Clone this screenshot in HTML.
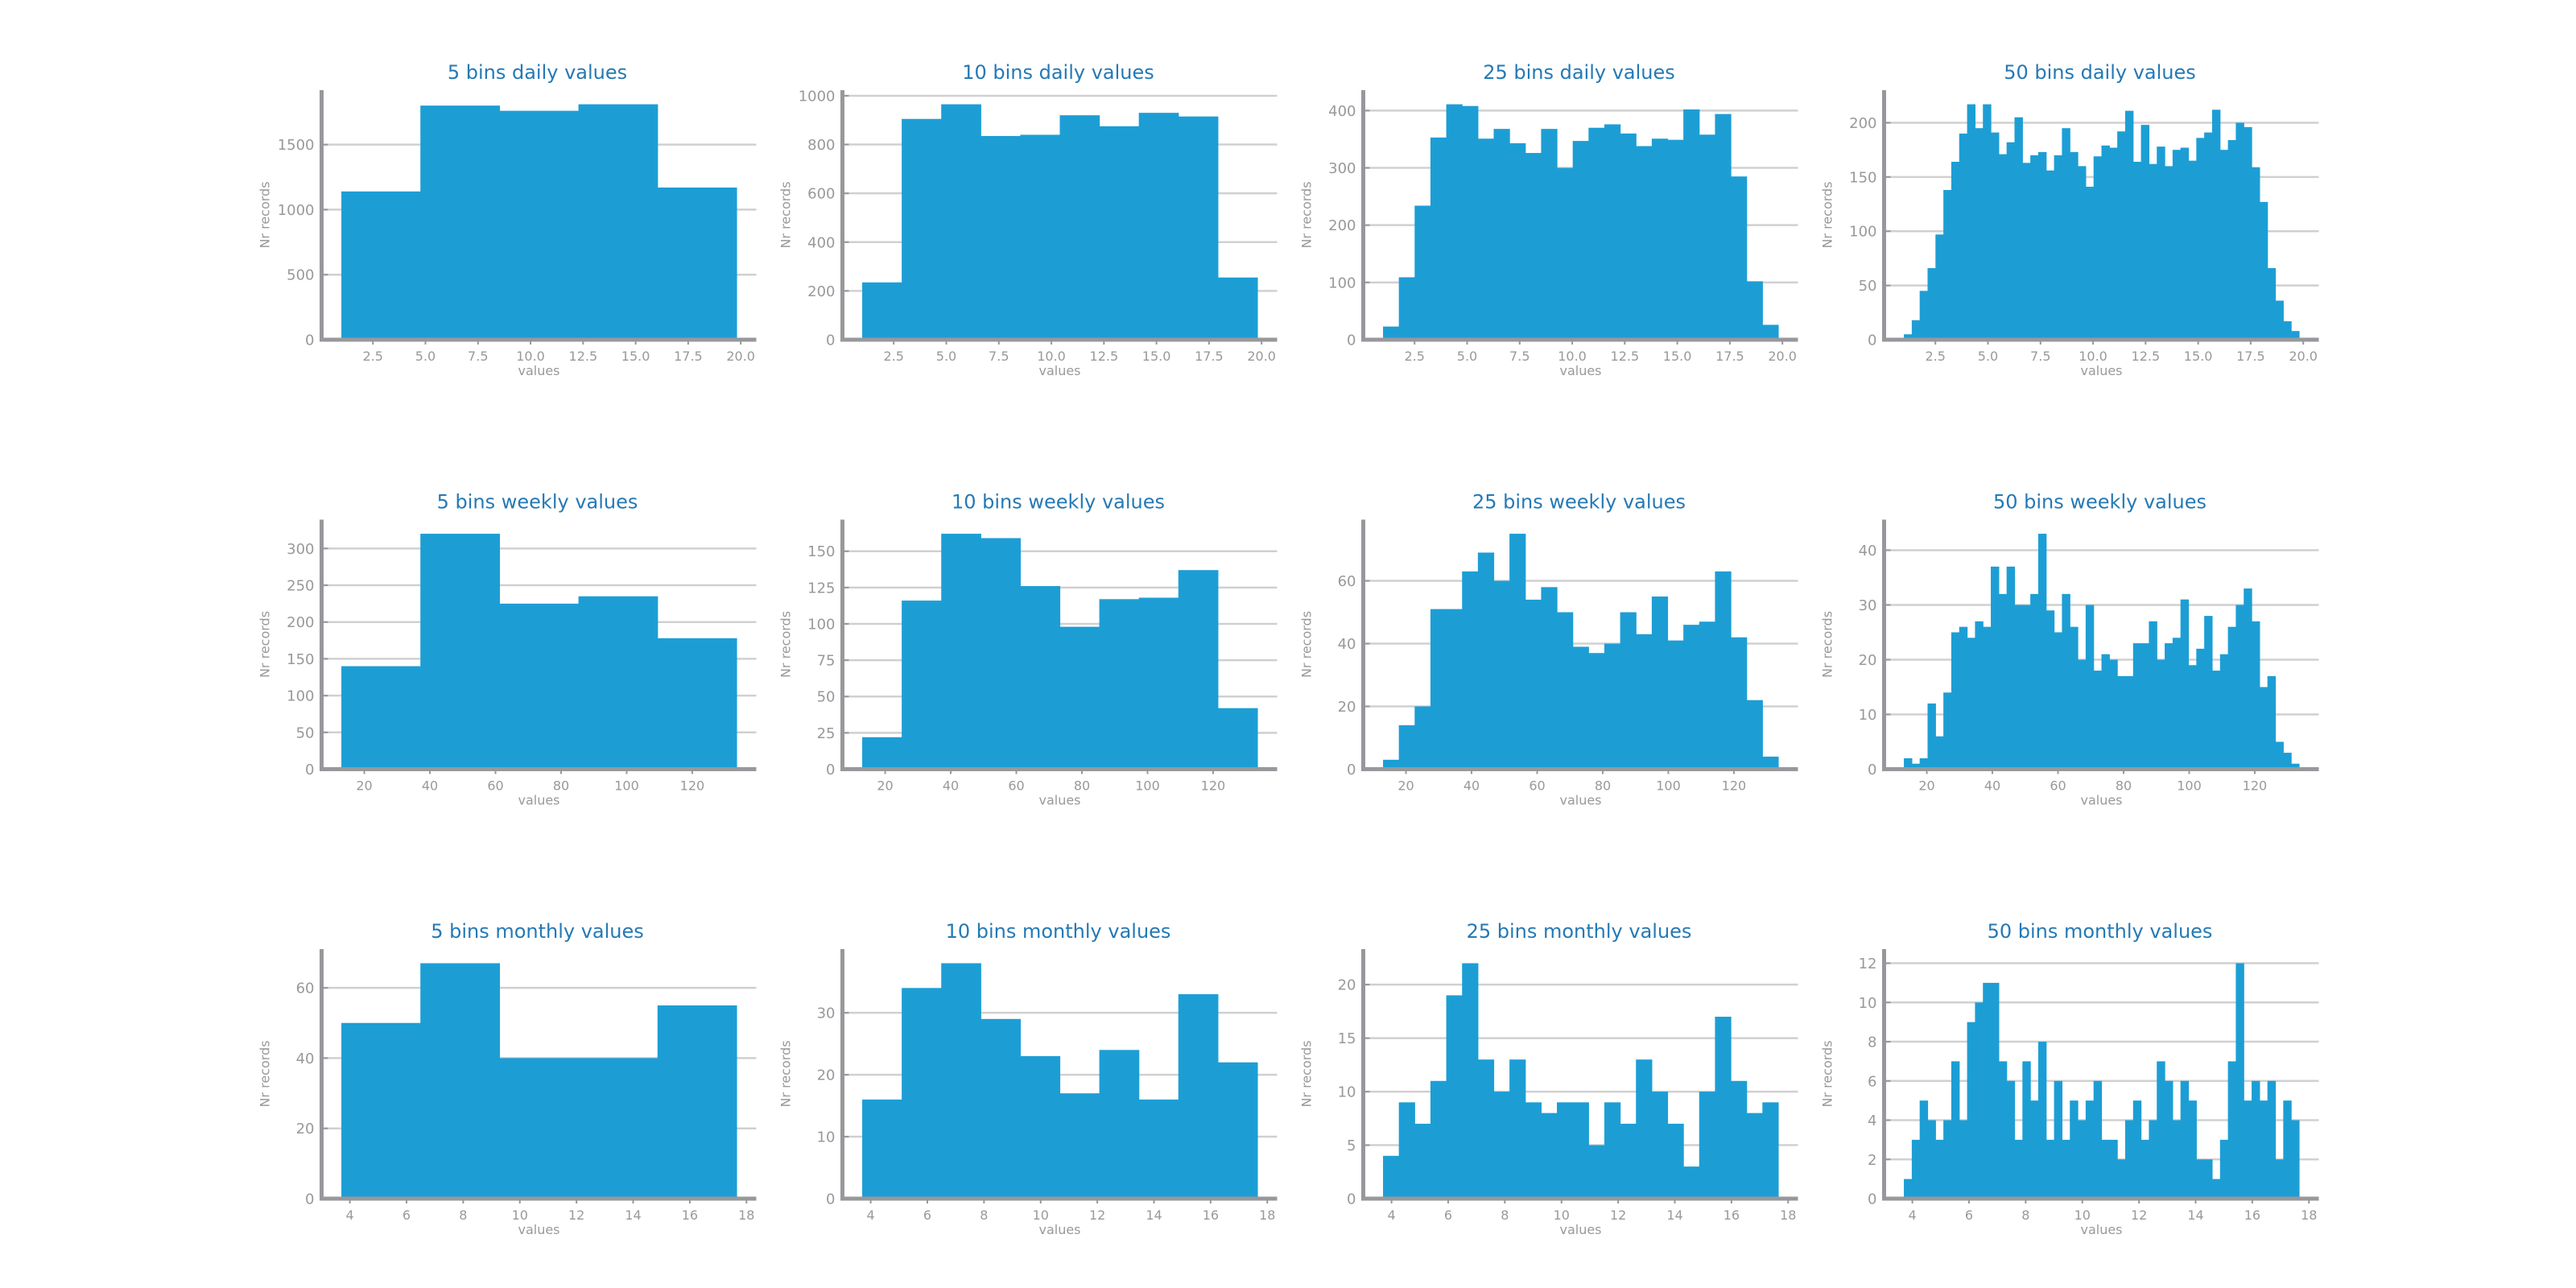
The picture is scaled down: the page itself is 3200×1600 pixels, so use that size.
<!DOCTYPE html>
<html><head><meta charset="utf-8"><style>
html,body{margin:0;padding:0;background:#fff;}
svg{display:block;font-family:"DejaVu Sans","Liberation Sans",sans-serif;}
</style></head><body>
<svg id="fig" width="3200" height="1600" viewBox="0 0 3200 1600" xmlns="http://www.w3.org/2000/svg"></svg>
<script>
// ---- data ----
const dailyRange = [1.0, 19.8];
const weeklyRange = [13, 133.5];
const monthlyRange = [3.7, 17.65];

const daily5 = [1140, 1800, 1760, 1810, 1170];
const daily10 = [235, 905, 965, 835, 840, 920, 875, 930, 915, 255];
const daily25 = [23, 109, 234, 353, 411, 408, 351, 368, 343, 326, 368, 300, 347, 370, 376, 360, 338, 351, 349, 402, 358, 394, 285, 102, 26];
const daily50 = [5, 18, 45, 66, 97, 138, 164, 190, 217, 195, 217, 191, 171, 182, 205, 163, 170, 173, 156, 170, 195, 173, 160, 141, 169, 179, 177, 192, 211, 164, 198, 162, 178, 160, 175, 177, 165, 186, 191, 212, 175, 184, 200, 196, 159, 127, 66, 36, 17, 8];

const weekly5 = [140, 320, 225, 235, 178];
const weekly10 = [22, 116, 162, 159, 126, 98, 117, 118, 137, 42];
const weekly25 = [3, 14, 20, 51, 51, 63, 69, 60, 75, 54, 58, 50, 39, 37, 40, 50, 43, 55, 41, 46, 47, 63, 42, 22, 4];
const weekly50 = [2, 1, 2, 12, 6, 14, 25, 26, 24, 27, 26, 37, 32, 37, 30, 30, 32, 43, 29, 25, 32, 26, 20, 30, 18, 21, 20, 17, 17, 23, 23, 27, 20, 23, 24, 31, 19, 22, 28, 18, 21, 26, 30, 33, 27, 15, 17, 5, 3, 1];

const monthly5 = [50, 67, 40, 40, 55];
const monthly10 = [16, 34, 38, 29, 23, 17, 24, 16, 33, 22];
const monthly25 = [4, 9, 7, 11, 19, 22, 13, 10, 13, 9, 8, 9, 9, 5, 9, 7, 13, 10, 7, 3, 10, 17, 11, 8, 9];
const monthly50 = [1, 3, 5, 4, 3, 4, 7, 4, 9, 10, 11, 11, 7, 6, 3, 7, 5, 8, 3, 6, 3, 5, 4, 5, 6, 3, 3, 2, 4, 5, 3, 4, 7, 6, 4, 6, 5, 2, 2, 1, 3, 7, 12, 5, 6, 5, 6, 2, 5, 4];

const dailyXTicks = [2.5, 5.0, 7.5, 10.0, 12.5, 15.0, 17.5, 20.0];
const weeklyXTicks = [20, 40, 60, 80, 100, 120];
const monthlyXTicks = [4, 6, 8, 10, 12, 14, 16, 18];

const yTicksD5 = [0, 500, 1000, 1500];
const yTicksD10 = [0, 200, 400, 600, 800, 1000];
const yTicksD25 = [0, 100, 200, 300, 400];
const yTicksD50 = [0, 50, 100, 150, 200];
const yTicksW5 = [0, 50, 100, 150, 200, 250, 300];
const yTicksW10 = [0, 25, 50, 75, 100, 125, 150];
const yTicksW25 = [0, 20, 40, 60];
const yTicksW50 = [0, 10, 20, 30, 40];
const yTicksM5 = [0, 20, 40, 60];
const yTicksM10 = [0, 10, 20, 30];
const yTicksM25 = [0, 5, 10, 15, 20];
const yTicksM50 = [0, 2, 4, 6, 8, 10, 12];

const rowLabels = ['daily', 'weekly', 'monthly'];
const binLabels = [5, 10, 25, 50];

const panels = [
  [[daily5, yTicksD5], [daily10, yTicksD10], [daily25, yTicksD25], [daily50, yTicksD50]],
  [[weekly5, yTicksW5], [weekly10, yTicksW10], [weekly25, yTicksW25], [weekly50, yTicksW50]],
  [[monthly5, yTicksM5], [monthly10, yTicksM10], [monthly25, yTicksM25], [monthly50, yTicksM50]]
];
const rowRanges = [dailyRange, weeklyRange, monthlyRange];
const rowXTicks = [dailyXTicks, weeklyXTicks, monthlyXTicks];

// ---- drawing ----
const NS = 'http://www.w3.org/2000/svg';
const svg = document.getElementById('fig');
function mk(tag, attrs, parent) {
  const e = document.createElementNS(NS, tag);
  for (const k in attrs) e.setAttribute(k, attrs[k]);
  parent.appendChild(e);
  return e;
}
function fmt(v, ticks) {
  const dec = ticks.some(t => Math.round(t) !== t);
  return dec ? v.toFixed(1) : String(v);
}

const AX_W = 540, AX_H = 310;
for (let r = 0; r < 3; r++) {
  for (let c = 0; c < 4; c++) {
    const counts = panels[r][c][0];
    const yTicks = panels[r][c][1];
    const range = rowRanges[r];
    const xTicks = rowXTicks[r];
    const L = 399.5 + c * 647;
    const T = 112 + r * 533.5;
    const B = T + AX_H;
    const span = range[1] - range[0];
    const x0 = range[0] - 0.05 * span, x1 = range[1] + 0.05 * span;
    const xs = v => L + (v - x0) / (x1 - x0) * AX_W;
    const ymax = Math.max(...counts) * 1.06;
    const ys = v => B - v / ymax * AX_H;

    const g = mk('g', {}, svg);
    
    

    yTicks.forEach(t => {
      if (t === 0) return;
      const gl = mk('line', {x1: L, x2: L + AX_W, y1: ys(t), y2: ys(t), stroke: '#d0d0d0', 'stroke-width': 2.5}, g);
      
      
    });
    const bw = span / counts.length;
    counts.forEach((v, i) => {
      const xa = xs(range[0] + i * bw), xb = xs(range[0] + (i + 1) * bw);
      const b = mk('rect', {x: xa, y: ys(v), width: xb - xa + 0.6, height: B - ys(v), fill: '#1c9ed5'}, g);
      
      
    });
    const sl = mk('line', {x1: L, x2: L, y1: T, y2: B + 2.5, stroke: '#98989c', 'stroke-width': 5}, g);
    
    
    const sb = mk('line', {x1: L - 2.5, x2: L + AX_W, y1: B, y2: B, stroke: '#98989c', 'stroke-width': 5}, g);
    
    
    yTicks.forEach(t => {
      const tk = mk('line', {x1: L, x2: L + 8, y1: ys(t), y2: ys(t), stroke: '#98989c', 'stroke-width': 2}, g);
      
      
      const tl = mk('text', {x: L - 9, y: ys(t) + 6.5, 'text-anchor': 'end', 'font-size': 18, fill: '#999'}, g);
      tl.textContent = fmt(t, yTicks);
      
      
    });
    xTicks.forEach(t => {
      const tk = mk('line', {x1: xs(t), x2: xs(t), y1: B, y2: B + 6, stroke: '#98989c', 'stroke-width': 2}, g);
      
      
      const tl = mk('text', {x: xs(t), y: B + 26, 'text-anchor': 'middle', 'font-size': 16, fill: '#999'}, g);
      tl.textContent = fmt(t, xTicks);
      
      
    });
    const xl = mk('text', {x: L + AX_W / 2, y: B + 44, 'text-anchor': 'middle', 'font-size': 16, fill: '#999'}, g);
    xl.textContent = 'values';
    
    
    const yl = mk('text', {x: 0, y: 0, 'text-anchor': 'middle', 'font-size': 16, fill: '#999', transform: 'translate(' + (L - 65) + ',' + (T + AX_H / 2) + ') rotate(-90)'}, g);
    yl.textContent = 'Nr records';
    
    
    const tt = mk('text', {x: L + AX_W / 2 - 2, y: T - 14, 'text-anchor': 'middle', 'font-size': 24, fill: '#2479b5'}, g);
    tt.textContent = binLabels[c] + ' bins ' + rowLabels[r] + ' values';
    
    
  }
}
</script>
</body></html>
